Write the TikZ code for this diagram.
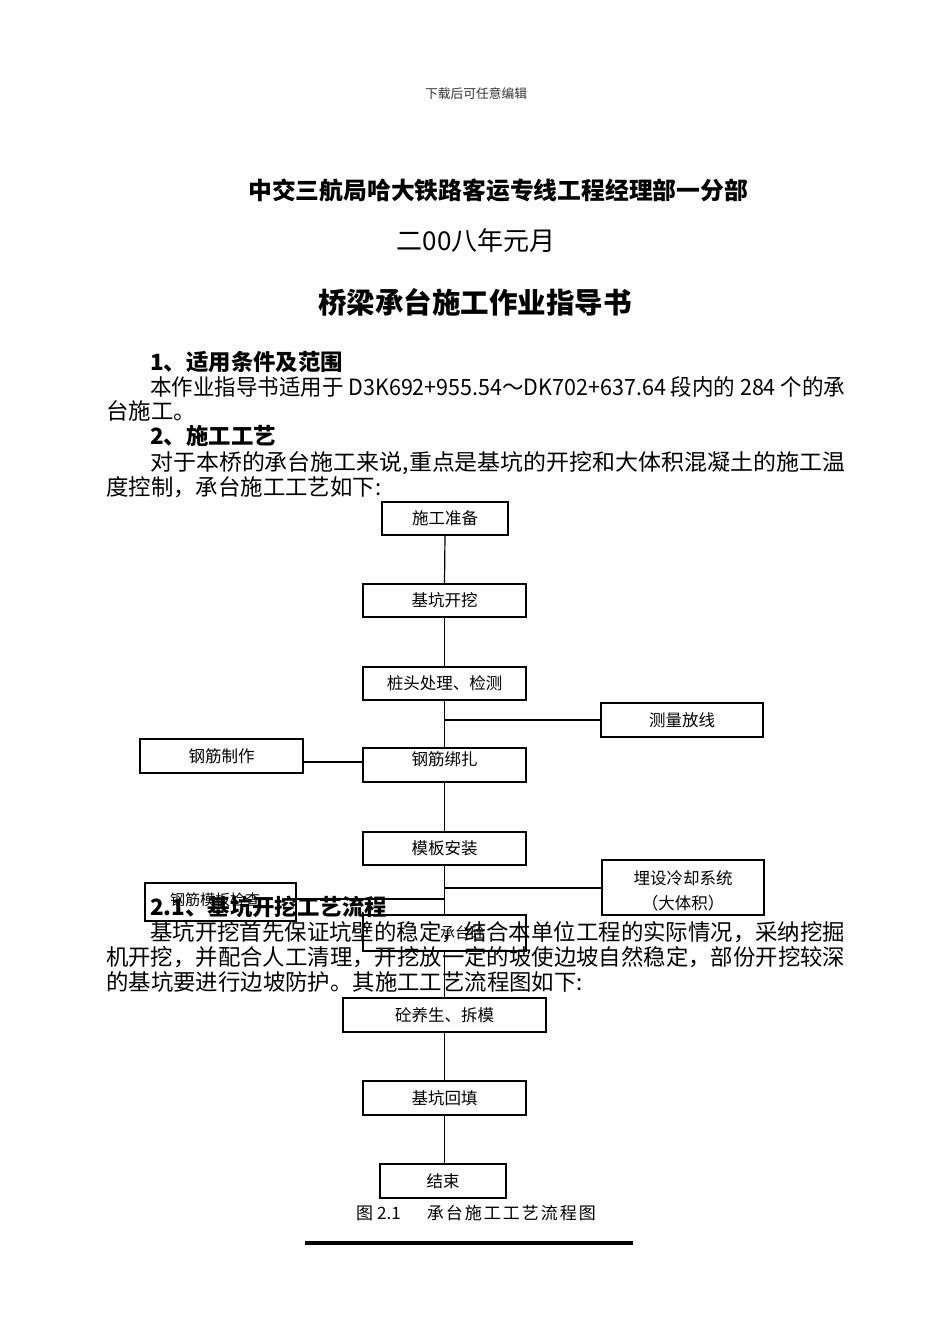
\documentclass[tikz,border=0pt]{standalone}
\usepackage{fontspec}
\setmainfont{Noto Sans CJK SC}
\usepackage{graphicx}
\newcommand\fsz[1]{\fontsize{#1pt}{#1pt}\selectfont}
\begin{document}
\begin{tikzpicture}[x=1pt,y=-1pt,
  box/.style={draw,line width=1.2pt,minimum width=163pt,minimum height=33pt,inner sep=0pt,font=\fsz{16.5}},
  lab/.style={inner sep=0pt,font=\fsz{16.5}},
  conn/.style={line width=1.2pt},
  txt/.style={anchor=base west,inner sep=0pt},
  ctxt/.style={anchor=base,inner sep=0pt}]
\fill[white] (0,0) rectangle (950,1344);
\useasboundingbox (0,0) rectangle (950,1344);

% header and titles
\node[ctxt,text=black!80] (hdr) at (476,98) {\fsz{12.75}下载后可任意编辑};
\node[txt] (title1) at (248,199) {\fsz{23.8}\bfseries 中交三航局哈大铁路客运专线工程经理部一分部};
\node[ctxt] (date) at (476,250) {\fsz{26}二00八年元月};
\node[txt] (title2) at (318,313) {\fsz{28.5}\bfseries 桥梁承台施工作业指导书};

% section 1 and 2
\node[txt] (h1) at (150,370.5) {\fsz{22.4}\bfseries 1、适用条件及范围};
\node[txt] (p1a) at (150,395.5) {\resizebox{695pt}{\height}{\fsz{22.4}本作业指导书适用于 D3K692+955.54～DK702+637.64 段内的 284 个的承}};
\node[txt] (p1b) at (106,419.5) {\fsz{22.4}台施工。};
\node[txt] (h2) at (150,444.5) {\fsz{22.4}\bfseries 2、施工工艺};
\node[txt] (p2a) at (150,470.5) {\resizebox{695pt}{\height}{\fsz{22.4}对于本桥的承台施工来说,重点是基坑的开挖和大体积混凝土的施工温}};
\node[txt] (p2b) at (106,495.5) {\fsz{22.4}度控制，承台施工工艺如下:};

% flowchart boxes
\node[box,minimum width=126pt] (prep) at (445,518.5) {施工准备};
\node[box] (dig) at (444.5,600.5) {基坑开挖};
\node[box] (pile) at (444.5,683.5) {桩头处理、检测};
\node[box,minimum width=162pt,minimum height=34pt] (survey) at (682,720) {测量放线};
\node[box,minimum height=34pt] (rebarmake) at (221.5,756) {钢筋制作};
\node[box,minimum height=34pt] (rebartie) at (444.5,765) {};
\node[lab] (rebartiet) at (444.5,759) {钢筋绑扎};
\node[box] (form) at (444.5,848.5) {模板安装};
\node[box,minimum width=162pt,minimum height=55pt] (cool) at (683,887.5) {};
\node[lab] (coolt1) at (683,878) {埋设冷却系统};
\node[lab] (coolt2) at (683,903) {（大体积）};
\node[box,minimum width=151pt,minimum height=38pt] (check) at (220.5,902) {};
\node[lab,font=\fsz{15}] (checkt) at (215,900) {钢筋模板检查};
\node[box,minimum height=36pt] (pour) at (444.5,933) {};
\node[lab,font=\fsz{15},anchor=west] (pourt) at (440,933) {承台砼};
\node[box,minimum width=203pt,minimum height=34pt] (cure) at (444.5,1015) {砼养生、拆模};
\node[box,minimum height=34pt] (backfill) at (444.5,1098) {基坑回填};
\node[box,minimum width=126pt,minimum height=34pt] (finish) at (443,1181) {结束};

% connectors
\draw[conn] (prep.south) -- (dig.north);
\draw[conn] (dig.south) -- (pile.north);
\draw[conn] (pile.south) -- (rebartie.north);
\coordinate (j1) at (444.5,720);
\draw[conn] (j1) -- (survey.west);
\coordinate (j2) at (303,762);
\draw[conn] (j2) -- (j2 -| rebartie.west);
\draw[conn] (rebartie.south) -- (form.north);
\draw[conn] (form.south) -- (pour.north);
\coordinate (j3) at (444.5,888);
\draw[conn] (j3) -- (j3 -| cool.west);
\coordinate (j4) at (444.5,899);
\draw[conn] (j4) -- (j4 -| check.east);
\draw[conn] (pour.south) -- (cure.north);
\draw[conn] (cure.south) -- (backfill.north);
\draw[conn] (backfill.south) -- ([xshift=1.5pt]finish.north);

% section 2.1 overlapping
\node[txt] (h3) at (150,915.5) {\fsz{22.4}\bfseries 2.1、基坑开挖工艺流程};
\node[txt] (p3a) at (150,940.5) {\resizebox{695pt}{\height}{\fsz{22.4}基坑开挖首先保证坑壁的稳定，结合本单位工程的实际情况，采纳挖掘}};
\node[txt] (p3b) at (106,965.5) {\resizebox{739pt}{\height}{\fsz{22.4}机开挖，并配合人工清理，开挖放一定的坡使边坡自然稳定，部份开挖较深}};
\node[txt] (p3c) at (106,990.5) {\fsz{22.4}的基坑要进行边坡防护。其施工工艺流程图如下:};

% caption and rule
\node[txt] (cap) at (356,1219.5) {\fsz{17}图\kern4pt 2.1\kern26pt 承\kern2pt 台\kern2pt 施\kern2pt 工\kern2pt 工\kern2pt 艺\kern2pt 流\kern2pt 程\kern2pt 图};
\coordinate (r1) at (305,1243);
\coordinate (r2) at (633,1243);
\draw[line width=3.5pt] (r1) -- (r2);
\end{tikzpicture}
\end{document}
